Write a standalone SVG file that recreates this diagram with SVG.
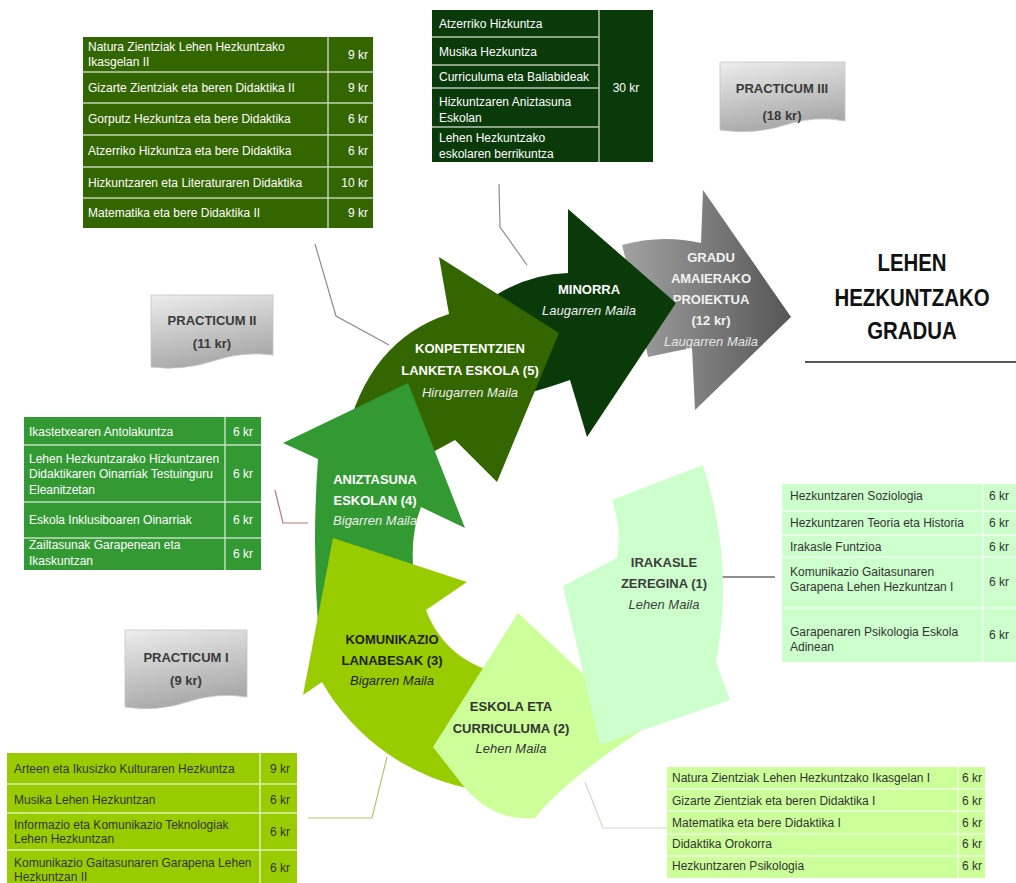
<svg xmlns="http://www.w3.org/2000/svg" width="1016" height="883" viewBox="0 0 1016 883">
<defs>
<style>
.tt{font-family:'Liberation Sans',Arial,sans-serif;font-size:12px}
.wt{fill:#ffffff}
.dk{fill:#333333}
.end{text-anchor:end}
.mid{text-anchor:middle}
.dv{stroke:#ffffff;stroke-width:1.5;stroke-opacity:0.7;fill:none}
.lb{font-family:'Liberation Sans',Arial,sans-serif;font-size:13px;font-weight:bold;text-anchor:middle}
.it{font-style:italic;font-weight:normal}
.pr{font-family:'Liberation Sans',Arial,sans-serif;font-size:13px;font-weight:bold;text-anchor:middle;fill:#3a3a3a}
.doc{fill:url(#gDoc);stroke:#c4c4c4;stroke-width:0.8}
.cn{fill:none;stroke-width:1.2}
.ttl{font-family:'Liberation Sans',Arial,sans-serif;font-size:24px;font-weight:bold;text-anchor:middle;fill:#111111}
</style>
<linearGradient id="gDoc" x1="0" y1="0" x2="0.3" y2="1">
<stop offset="0" stop-color="#ededed"/><stop offset="1" stop-color="#a9a9a9"/>
</linearGradient>
<linearGradient id="gGray" gradientUnits="userSpaceOnUse" x1="620" y1="0" x2="790" y2="0">
<stop offset="0" stop-color="#a3a3a3"/><stop offset="1" stop-color="#565656"/>
</linearGradient>
</defs>
<rect width="1016" height="883" fill="#ffffff"/>

<g id="connectors">
<polyline class="cn" points="315,244 336,316 389,345" stroke="#8c8c8c"/>
<polyline class="cn" points="499,184 500,227 527,265" stroke="#8c8c8c"/>
<polyline class="cn" points="275,490 283,523 308,523" stroke="#b07a7a"/>
<line x1="722" y1="577" x2="775" y2="577" stroke="#8f8f8f" stroke-width="2"/>
<polyline class="cn" points="387,757 372,818 308,818" stroke="#b9c46e" stroke-width="1.5"/>
<polyline class="cn" points="585,782 603,828 667,828" stroke="#d2d9c8" stroke-width="1.5"/>
</g>

<g id="arrow-gradu">
<path d="M622,245 Q661,234 701,243 L703,190 L791,317 L695,410 L692,348 Q670,352 648,357 L636,300 Z" fill="url(#gGray)"/>
<text class="lb" fill="#f2f2f2" x="711" y="262">GRADU</text>
<text class="lb" fill="#f2f2f2" x="711" y="283">AMAIERAKO</text>
<text class="lb" fill="#f2f2f2" x="711" y="304">PROIEKTUA</text>
<text class="lb" fill="#f2f2f2" x="711" y="325">(12 kr)</text>
<text class="lb it" fill="#e6e6e6" x="711" y="346">Laugarren Maila</text>
</g>

<g id="arrow-minorra">
<path d="M496,295 Q530,274 568,273 L568,209 L676,303 L587,437 L570,380 Q553,386 539,390 L505,400 L470,300 Z" fill="#0a3a0a"/>
<text class="lb" fill="#ffffff" x="589" y="294">MINORRA</text>
<text class="lb it" fill="#eeeeee" x="589" y="315">Laugarren Maila</text>
</g>

<g id="arrow-konpetentzien">
<path d="M439,257 L559,333 L497,482 L455,440 L400,470 L345,440 Q368,340 449,314 Z" fill="#336600"/>
<text class="lb" fill="#ffffff" x="470" y="353">KONPETENTZIEN</text>
<text class="lb" fill="#ffffff" x="470" y="375">LANKETA ESKOLA (5)</text>
<text class="lb it" fill="#eeeeee" x="470" y="397">Hirugarren Maila</text>
</g>

<g id="arrow-aniztasuna">
<path d="M408,383 L465,528 L421,507 Q406,545 418,600 L340,650 L318,625 Q312,540 318,459 L283,443 Z" fill="#339933"/>
<text class="lb" fill="#ffffff" x="375" y="484">ANIZTASUNA</text>
<text class="lb" fill="#ffffff" x="375" y="505">ESKOLAN (4)</text>
<text class="lb it" fill="#eeeeee" x="375" y="525">Bigarren Maila</text>
</g>

<g id="arrow-komunikazio">
<path d="M333,538 L467,582 L426,610 A97,97 0 0 0 540,672 L500,800 L478,790 A219,219 0 0 1 322,682 L303,695 Z" fill="#99cc00"/>
<text class="lb" fill="#1f1f1f" x="392" y="644">KOMUNIKAZIO</text>
<text class="lb" fill="#1f1f1f" x="392" y="665">LANABESAK (3)</text>
<text class="lb it" fill="#1f1f1f" x="392" y="685">Bigarren Maila</text>
</g>

<g id="arrow-eskola">
<path d="M518,613 L433,747 L465,788 Q495,822 535,818 Q565,780 645,728 L662,700 L590,680 Z" fill="#ccff99"/>
<text class="lb" fill="#333333" x="511" y="711">ESKOLA ETA</text>
<text class="lb" fill="#333333" x="511" y="733">CURRICULUMA (2)</text>
<text class="lb it" fill="#333333" x="511" y="753">Lehen Maila</text>
</g>

<g id="arrow-irakasle">
<path d="M612,500 L703,465 Q735,565 716,662 L730,700 L600,745 L563,586 L617,558 Q622,528 612,500 Z" fill="#ccffcc"/>
<text class="lb" fill="#3d3d3d" x="664" y="567">IRAKASLE</text>
<text class="lb" fill="#3d3d3d" x="664" y="588">ZEREGINA (1)</text>
<text class="lb it" fill="#3d3d3d" x="664" y="609">Lehen Maila</text>
</g>

<g id="table-hirugarren">
<rect x="83" y="37" width="290" height="191" fill="#336600"/>
<path class="dv" d="M83,72H373M83,103H373M83,135H373M83,167H373M83,198H373M328,37V228"/>
<g class="tt wt">
<text x="88" y="51">Natura Zientziak Lehen Hezkuntzako</text>
<text x="88" y="66">Ikasgelan II</text>
<text x="88" y="92">Gizarte Zientziak eta beren Didaktika II</text>
<text x="88" y="123">Gorputz Hezkuntza eta bere Didaktika</text>
<text x="88" y="155">Atzerriko Hizkuntza eta bere Didaktika</text>
<text x="88" y="187">Hizkuntzaren eta Literaturaren Didaktika</text>
<text x="88" y="217">Matematika eta bere Didaktika II</text>
</g>
<g class="tt wt end">
<text x="368" y="59">9 kr</text>
<text x="368" y="92">9 kr</text>
<text x="368" y="123">6 kr</text>
<text x="368" y="155">6 kr</text>
<text x="368" y="187">10 kr</text>
<text x="368" y="217">9 kr</text>
</g>
</g>

<g id="table-minorra">
<rect x="432" y="10" width="221" height="152" fill="#0a3a0a"/>
<path class="dv" d="M432,37H599M432,65H599M432,88H599M432,127H599M599,10V162"/>
<g class="tt wt">
<text x="439" y="28">Atzerriko Hizkuntza</text>
<text x="439" y="56">Musika Hezkuntza</text>
<text x="439" y="81">Curriculuma eta Baliabideak</text>
<text x="439" y="106">Hizkuntzaren Aniztasuna</text>
<text x="439" y="122">Eskolan</text>
<text x="439" y="142">Lehen Hezkuntzako</text>
<text x="439" y="158">eskolaren berrikuntza</text>
<text class="mid" x="626" y="92">30 kr</text>
</g>
</g>

<g id="table-aniztasuna">
<rect x="24" y="417" width="237" height="153" fill="#339933"/>
<path class="dv" d="M24,445H261M24,502H261M24,538H261M225,417V570"/>
<g class="tt wt">
<text x="29" y="436">Ikastetxearen Antolakuntza</text>
<text x="29" y="463">Lehen Hezkuntzarako Hizkuntzaren</text>
<text x="29" y="478">Didaktikaren Oinarriak Testuinguru</text>
<text x="29" y="494">Eleanitzetan</text>
<text x="29" y="524">Eskola Inklusiboaren Oinarriak</text>
<text x="29" y="549">Zailtasunak Garapenean eta</text>
<text x="29" y="565">Ikaskuntzan</text>
</g>
<g class="tt wt mid">
<text x="243" y="436">6 kr</text>
<text x="243" y="478">6 kr</text>
<text x="243" y="524">6 kr</text>
<text x="243" y="558">6 kr</text>
</g>
</g>

<g id="table-irakasle">
<rect x="782" y="484" width="240" height="178" fill="#ccffcc"/>
<path class="dv" d="M782,511H1016M782,535H1016M782,557H1016M782,608H1016M983,484V662"/>
<g class="tt dk">
<text x="790" y="500">Hezkuntzaren Soziologia</text>
<text x="790" y="527">Hezkuntzaren Teoria eta Historia</text>
<text x="790" y="551">Irakasle Funtzioa</text>
<text x="790" y="576">Komunikazio Gaitasunaren</text>
<text x="790" y="591">Garapena Lehen Hezkuntzan I</text>
<text x="790" y="636">Garapenaren Psikologia Eskola</text>
<text x="790" y="651">Adinean</text>
<text x="989" y="500">6 kr</text>
<text x="989" y="527">6 kr</text>
<text x="989" y="551">6 kr</text>
<text x="989" y="586">6 kr</text>
<text x="989" y="639">6 kr</text>
</g>
</g>

<g id="table-komunikazio">
<rect x="7" y="753" width="290" height="135" fill="#99cc00"/>
<path class="dv" d="M7,784H297M7,813H297M7,850H297M260,753V888"/>
<g class="tt dk">
<text x="14" y="773">Arteen eta Ikusizko Kulturaren Hezkuntza</text>
<text x="14" y="804">Musika Lehen Hezkuntzan</text>
<text x="14" y="829">Informazio eta Komunikazio Teknologiak</text>
<text x="14" y="843">Lehen Hezkuntzan</text>
<text x="14" y="867">Komunikazio Gaitasunaren Garapena Lehen</text>
<text x="14" y="881">Hezkuntzan II</text>
</g>
<g class="tt dk end">
<text x="290" y="773">9 kr</text>
<text x="290" y="804">6 kr</text>
<text x="290" y="836">6 kr</text>
<text x="290" y="872">6 kr</text>
</g>
</g>

<g id="table-eskola">
<rect x="667" y="767" width="318" height="111" fill="#ccff99"/>
<path class="dv" d="M667,789H985M667,811H985M667,834H985M667,856H985M958,767V878"/>
<g class="tt dk">
<text x="672" y="782">Natura Zientziak Lehen Hezkuntzako Ikasgelan I</text>
<text x="672" y="805">Gizarte Zientziak eta beren Didaktika I</text>
<text x="672" y="827">Matematika eta bere Didaktika I</text>
<text x="672" y="848">Didaktika Orokorra</text>
<text x="672" y="870">Hezkuntzaren Psikologia</text>
<text x="962" y="782">6 kr</text>
<text x="962" y="805">6 kr</text>
<text x="962" y="827">6 kr</text>
<text x="962" y="848">6 kr</text>
<text x="962" y="870">6 kr</text>
</g>
</g>

<g id="practicum-3">
<path class="doc" d="M720,62 H845 V121 Q815,115 785,125 T720,130 Z"/>
<text class="pr" x="782" y="93">PRACTICUM III</text>
<text class="pr" x="782" y="120">(18 kr)</text>
</g>
<g id="practicum-2">
<path class="doc" d="M151,295 H273 V355 Q243,351 213,361 T151,367 Z"/>
<text class="pr" x="212" y="325">PRACTICUM II</text>
<text class="pr" x="212" y="348">(11 kr)</text>
</g>
<g id="practicum-1">
<path class="doc" d="M125,630 H247 V697 Q217,692 187,702 T125,707 Z"/>
<text class="pr" x="186" y="662">PRACTICUM I</text>
<text class="pr" x="186" y="685">(9 kr)</text>
</g>

<g id="title">
<g transform="translate(912 0) scale(0.85 1)">
<text class="ttl" x="0" y="271">LEHEN</text>
<text class="ttl" x="0" y="306">HEZKUNTZAKO</text>
<text class="ttl" x="0" y="339">GRADUA</text>
</g>
<line x1="805" y1="362" x2="1016" y2="362" stroke="#222222" stroke-width="1.5"/>
</g>
</svg>
